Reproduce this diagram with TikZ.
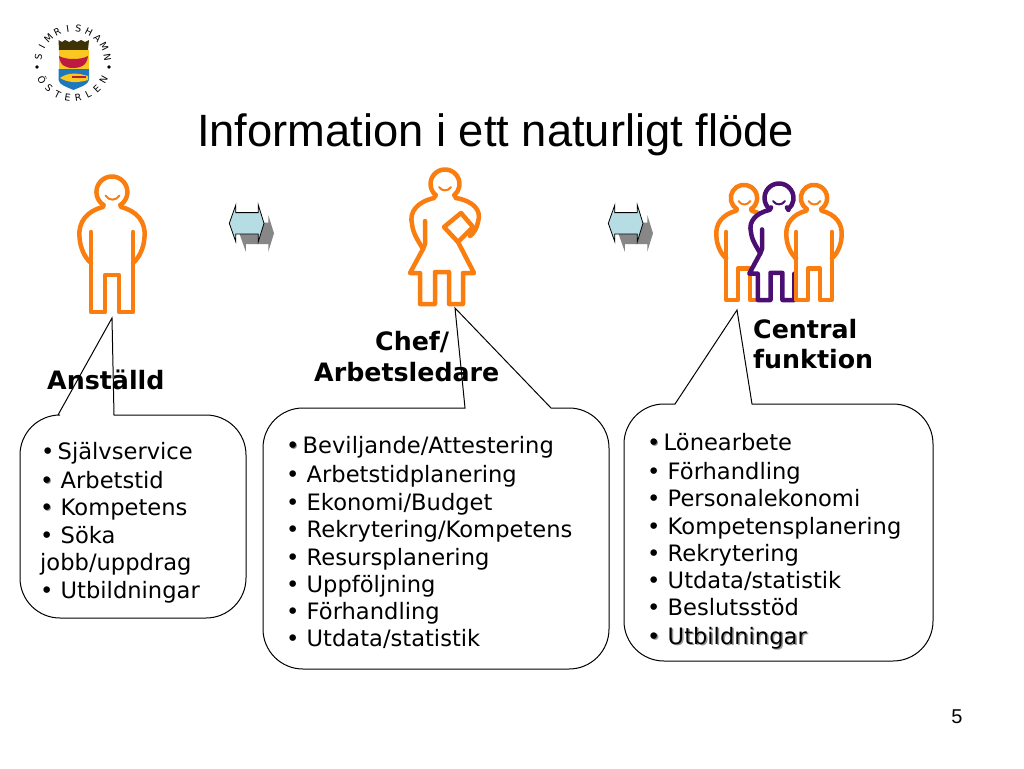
\documentclass[tikz,border=0pt]{standalone}
\usepackage{fontspec}
\setmainfont{DejaVu Sans}
\newfontfamily\titlefont{Liberation Sans}
\usetikzlibrary{calc}
\definecolor{figorange}{RGB}{250,125,15}
\definecolor{figpurple}{RGB}{75,15,115}
\definecolor{arrowblue}{RGB}{182,221,228}
\definecolor{arrowgrey}{RGB}{135,135,135}
\definecolor{shieldblue}{RGB}{30,120,190}
\definecolor{shieldgold}{RGB}{250,200,30}
\definecolor{shieldred}{RGB}{190,25,65}
\newcommand{\sbul}{\rlap{\color{black!45}\kern1pt\raisebox{-1pt}{•}}•}
\newcommand{\tbul}{•\kern-4pt}
\tikzset{
  figline/.style={line width=4.5pt,line join=round,line cap=round},
  smile/.style={line width=2pt,line cap=round},
  callout/.style={draw,line width=1pt,fill=white},
  item/.style={anchor=base west,font=\fontsize{22.6}{24}\selectfont,inner sep=0pt},
  heading/.style={anchor=base west,font=\fontsize{25.3}{28}\selectfont\bfseries,inner sep=0pt},
  logoletter/.style={font=\fontsize{9.5}{10}\selectfont,inner sep=0pt},
  man/.pic={
    \fill[white] (-9,15) .. controls (-25,19) and (-34,30) .. (-32.5,45) .. controls (-32,56) and (-27,66) .. (-21,71)
      -- (-21,120) -- (21,120) -- (21,71) .. controls (27,66) and (32,56) .. (32.5,45) .. controls (34,30) and (25,19) .. (9,15) -- cycle;
    \draw[figline,pic actions] (-8.5,13) arc (123:417:15.5);
    \draw[smile,pic actions] (-6.5,3.5) .. controls (-3,9) and (4,9) .. (7.5,3.5);
    \draw[figline,pic actions] (-8.5,13) -- (-9,15) .. controls (-25,19) and (-34,30) .. (-32.5,45) .. controls (-32,56) and (-27,66) .. (-21,71);
    \draw[figline,pic actions] (8.5,13) -- (9,15) .. controls (25,19) and (34,30) .. (32.5,45) .. controls (32,56) and (27,66) .. (21,71);
    \draw[figline,pic actions] (-21,40) -- (-21,120) -- (-7,120) -- (-7,83) -- (7,83) -- (7,120) -- (21,120) -- (21,40);
  },
  woman/.pic={
    \fill[white] (-11,14) .. controls (-28,18) and (-36,28) .. (-33,40) .. controls (-32,50) and (-26,58) .. (-22,65)
      -- (-35,89) -- (-25,89) -- (-25,120) -- (18,120) -- (18,89) -- (29,89) -- (13,58) -- (11,14) -- cycle;
    \draw[figline,pic actions] (-9.3,11.1) -- (-11,14) .. controls (-28,18) and (-36,28) .. (-33,40) .. controls (-32,50) and (-26,58) .. (-22,65);
    \draw[figline,pic actions] (9.3,11.1) -- (11,14);
    \draw[figline,pic actions] (-20,37) -- (-20,60) -- (-22,65) -- (-35,89) -- (-25,89) -- (-25,120) -- (-10,120) -- (-10,88)
      -- (4,88) -- (4,120) -- (18,120) -- (18,89) -- (29,89) -- (13,58);
  },
  womanhead/.pic={
    \draw[figline,pic actions] (-9.3,11.1) arc (130:410:14.5);
    \draw[smile,pic actions] (-6,3) .. controls (-3,7.5) and (3,7.5) .. (6,3);
  },
  folder/.pic={
    \draw[figline,pic actions] (11,14) .. controls (28,17) and (37,26) .. (33,38) .. controls (32,44) and (29,49) .. (25,52);
    \draw[figline,pic actions] (16,29) -- (-1,43) -- (13,58) -- (28,43) -- cycle;
  },
  dblarrow/.pic={
    \fill[arrowgrey] (10,10) -- (16.5,-8.3) -- (16.5,-0.7) -- (39,-0.7) -- (39,-8.3) -- (44.7,10) -- (39,28.4) -- (39,20.7)
      -- (16.5,20.7) -- (16.5,28.4) -- cycle;
    \draw[fill=arrowblue,line width=.8pt] (0,0) -- (6.5,-18.3) -- (6.5,-10.7) -- (29,-10.7) -- (29,-18.3) -- (34.7,0) -- (29,18.4)
      -- (29,10.7) -- (6.5,10.7) -- (6.5,18.4) -- cycle;
  }
}
\begin{document}
\begin{tikzpicture}[x=1pt,y=-1pt]
\useasboundingbox (0,0) rectangle (1024,768);
\fill[white] (0,0) rectangle (1024,768);

\coordinate (logo) at (73,63);
\foreach \lett [count=\i from 0] in {S,I,M,R,I,S,H,A,M,N}
  \node[logoletter,rotate={80-\i*17.8}] (top\i) at ($(logo)+({170-\i*17.8}:35 and -35)$) {\lett};
\foreach \lett [count=\i from 0] in {Ö,S,T,E,R,L,E,N}
  \node[logoletter,rotate={-61+\i*17.4}] (bot\i) at ($(logo)+({209+\i*17.4}:35 and -35)$) {\lett};
\fill (37,67) circle (1.8) (109,67) circle (1.8);
\fill[shieldblue] (58.5,69) -- (89,69) -- (89,80) .. controls (88,85) and (80,87) .. (73.5,90) .. controls (67,87) and (59,85) .. (58.5,80) -- cycle;
\fill[shieldgold] (58.5,50) rectangle (89,69);
\fill[black!75!shieldgold] (58.5,40) -- (62,42) -- (65,40) -- (69,42) -- (73,40) -- (77,42) -- (81,40) -- (85,42) -- (89,40) -- (88,50) -- (59,50) -- cycle;
\fill[shieldred] (59,56) .. controls (66,60) and (81,60) .. (88,56) .. controls (87,66) and (80,68) .. (73.5,68) .. controls (66,68) and (60,66) .. (59,56) -- cycle;
\fill[shieldgold] (60,78) .. controls (68,72) and (78,73) .. (88,76) -- (88,80) .. controls (78,83) and (68,83) .. (60,78) -- cycle;
\fill[shieldred] (72,75.5) rectangle (86,77.5);

\node[inner sep=0pt,anchor=base west,font=\titlefont\fontsize{45.3}{48}\selectfont] (title) at (197,146) {Information i ett naturligt flöde};
\node[inner sep=0pt,font=\titlefont\fontsize{20}{22}\selectfont] (pagenr) at (957,717) {5};

\pic[draw=figorange] (anstalld) at (112,192) {man};
\pic[draw=figorange] (chef) at (445,184) {woman};
\pic[draw=figorange] (chefhead) at (445,184) {womanhead};
\pic[draw=figorange] (chefmap) at (445,184) {folder};
\pic[draw=figorange,scale=.85] (central1) at (744,198) {man};
\pic[draw=figpurple,scale=.85] (central2) at (779,198) {woman};
\pic[draw=figpurple] (central2head) at (779,198) {womanhead};
\pic[draw=figorange,scale=.85] (central3) at (814,198) {man};

\pic (pil1) at (229.3,223.3) {dblarrow};
\pic (pil2) at (608.3,223.3) {dblarrow};

\draw[callout] (58,415) -- (112,318) -- (114,415)
  -- (206,415) arc (-90:0:40) -- (246,578) arc (0:90:40) -- (60,618) arc (90:180:40) -- (20,455) arc (180:270:40) -- cycle;
\draw[callout] (465,408) -- (455,308) -- (551,408)
  -- (569,408) arc (-90:0:40) -- (609,629) arc (0:90:40) -- (303,669) arc (90:180:40) -- (263,448) arc (180:270:40) -- cycle;
\draw[callout] (675,404) -- (737,310) -- (752,404)
  -- (893,404) arc (-90:0:40) -- (933,621) arc (0:90:40) -- (664,661) arc (90:180:40) -- (624,444) arc (180:270:40) -- cycle;

\node[heading] (anst) at (47,389) {Anställd};
\node[heading] (chef1) at (375,350) {Chef/};
\node[heading] (chef2) at (314,381) {Arbetsledare};
\node[heading] (cent1) at (753,338) {Central};
\node[heading] (cent2) at (753,368) {funktion};

\foreach \ypos/\xpos/\txt [count=\i] in {459/41/{\tbul{} Självservice},488/40/{\sbul{} Arbetstid},515/40/{\sbul{} Kompetens},543/40/{• Söka},570/40/{jobb/uppdrag},598/40/{• Utbildningar}}
  \node[item] (anst\i) at (\xpos,\ypos) {\txt};
\foreach \ypos/\xpos/\txt [count=\i] in {453/286/{\sbul\kern-4pt{} Beviljande/Attestering},482/286/{• Arbetstidplanering},510/286/{• Ekonomi/Budget},537/286/{• Rekrytering/Kompetens},565/286/{• Resursplanering},592/286/{• Uppföljning},619/286/{• Förhandling},646/286/{• Utdata/statistik}}
  \node[item] (chefl\i) at (\xpos,\ypos) {\txt};
\foreach \ypos/\xpos/\txt [count=\i] in {450/647/{\sbul\kern-4pt{} Lönearbete},479/647/{• Förhandling},506/647/{• Personalekonomi},534/647/{• Kompetensplanering},561/647/{• Rekrytering},588/647/{• Utdata/statistik},615/647/{• Beslutsstöd}}
  \node[item] (cent\i) at (\xpos,\ypos) {\txt};
\node[item,text=black!40] (centshadow) at (648.5,645.5) {• Utbildningar};
\node[item] (cent8) at (647,644) {• Utbildningar};
\end{tikzpicture}
\end{document}
